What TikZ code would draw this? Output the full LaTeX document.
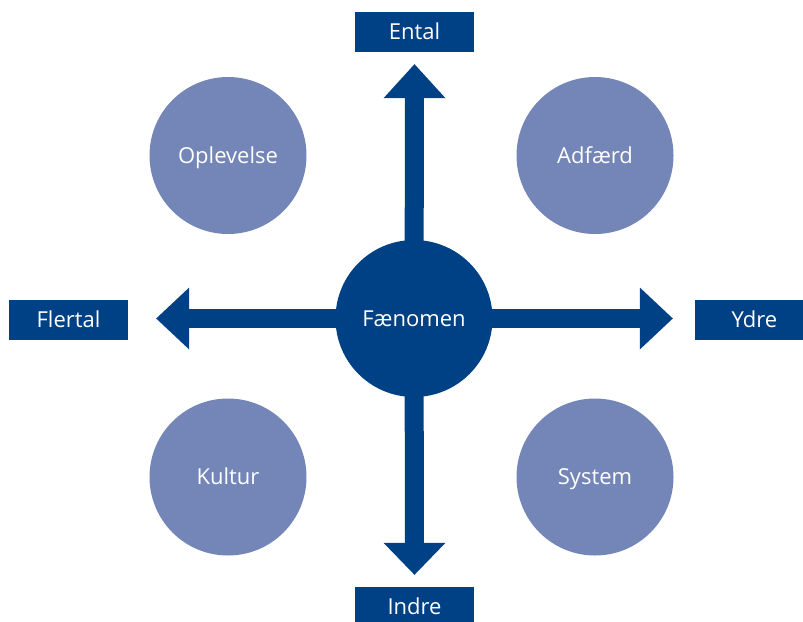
\documentclass[tikz,border=0pt]{standalone}
\usepackage{fontspec}
\setmainfont{Open Sans}
\usetikzlibrary{calc}
\definecolor{darkblue}{RGB}{0,64,133}
\definecolor{lightblue}{RGB}{116,133,183}
\tikzset{
  lbl/.style={font=\fontsize{22}{24}\selectfont, text=white, text height=15.6pt, text depth=0pt},
  bigcirc/.style={circle, fill=lightblue, minimum size=157pt, inner sep=0pt, lbl},
  hubcirc/.style={circle, fill=darkblue, minimum size=157pt, inner sep=0pt, lbl},
  labelbox/.style={rectangle, fill=darkblue, minimum width=119pt, minimum height=40pt, inner sep=0pt, lbl},
  shaft/.style={draw=darkblue, line width=19pt, line cap=butt},
  head/.style={fill=darkblue}
}
\begin{document}
\begin{tikzpicture}[x=1pt,y=-1pt]
\useasboundingbox (0,0) rectangle (803,621);
% circles
\node[bigcirc] (opl) at (228,155.5) {Oplevelse};
\node[bigcirc] (adf) at (595,155.5) {Adfærd};
\node[bigcirc] (kul) at (228,477) {Kultur};
\node[bigcirc] (sys) at (595,477) {System};
% label boxes
\node[labelbox] (ental) at (414.5,32) {Ental};
\node[labelbox] (indre) at (414.5,607) {Indre};
\node[labelbox] (flertal) at (68.5,320) {Flertal};
\node[labelbox] (ydre) at (754.5,319.5) {Ydre};
\coordinate (c) at (414,318.5);
% shafts
\draw[shaft] (c) -- ($(ental.south)+(0,40)$);
\draw[shaft] (c) -- ($(indre.north)+(0,-38)$);
\draw[shaft] (c) -- ($(flertal.east)+(55,-1.5)$);
\draw[shaft] (c) -- ($(ydre.west)+(-49,-1)$);
% heads
\fill[head] ($(ental.south)+(0,12)$) -- ++(-31,34) -- ++(62,0) -- cycle;
\fill[head] ($(indre.north)+(0,-12)$) -- ++(-31,-32) -- ++(62,0) -- cycle;
\fill[head] ($(flertal.east)+(28,-1.5)$) -- ++(33,-31) -- ++(0,62) -- cycle;
\fill[head] ($(ydre.west)+(-22,-1)$) -- ++(-33,-31) -- ++(0,62) -- cycle;
% hub
\node[hubcirc] (hub) at (c) {Fænomen};
\end{tikzpicture}
\end{document}
